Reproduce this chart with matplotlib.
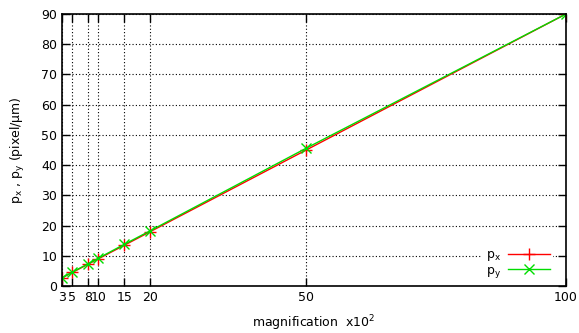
import matplotlib
matplotlib.use('Agg')
import matplotlib.pyplot as plt

# magnification (x10^2) and pixel sizes
magnification = [3, 5, 8, 10, 15, 20, 50, 100]
px = [2.7, 4.5, 7.2, 9.0, 13.5, 18.0, 45.0, 90.0]
py = [2.75, 4.6, 7.35, 9.2, 13.8, 18.3, 45.6, 90.0]
xticks = [3, 5, 8, 10, 15, 20, 50, 100]
yticks = [0, 10, 20, 30, 40, 50, 60, 70, 80, 90]

plt.rcParams['font.size'] = 9

fig = plt.figure(figsize=(5.79, 3.33), dpi=100)
ax = fig.add_axes([0.1071, 0.1411, 0.8704, 0.8169])

ax.plot(magnification, px, color='#ff0000', marker='+', markersize=9, lw=1,
        label='$\\mathregular{p_x}$')
ax.plot(magnification, py, color='#00dd00', marker='x', markersize=7, lw=1,
        label='$\\mathregular{p_y}$')

ax.set_xlim(3, 100)
ax.set_ylim(0, 90)
ax.set_xticks(xticks)
ax.set_xticklabels([str(t) for t in xticks])
ax.set_yticks(yticks)
ax.grid(True, color='black', linestyle=(0, (1, 2)), lw=0.8)
ax.tick_params(direction='in', top=True, right=True, length=6, width=1)
for s in ax.spines.values():
    s.set_linewidth(1.2)

ax.set_xlabel('magnification  x$\\mathregular{10^2}$', labelpad=7)
ax.set_ylabel('$\\mathregular{p_x}$ , $\\mathregular{p_y}$ (pixel/µm)', labelpad=10)

leg = ax.legend(loc='lower right', bbox_to_anchor=(0.98, 0.0), markerfirst=False,
                frameon=True, fancybox=False, edgecolor='none', facecolor='white',
                framealpha=1, handlelength=3.3, borderaxespad=0.2, borderpad=0.3,
                labelspacing=0.05, handletextpad=0.6)
for t in leg.get_texts():
    t.set_ha('right')

fig.savefig('out.png', dpi=100)
